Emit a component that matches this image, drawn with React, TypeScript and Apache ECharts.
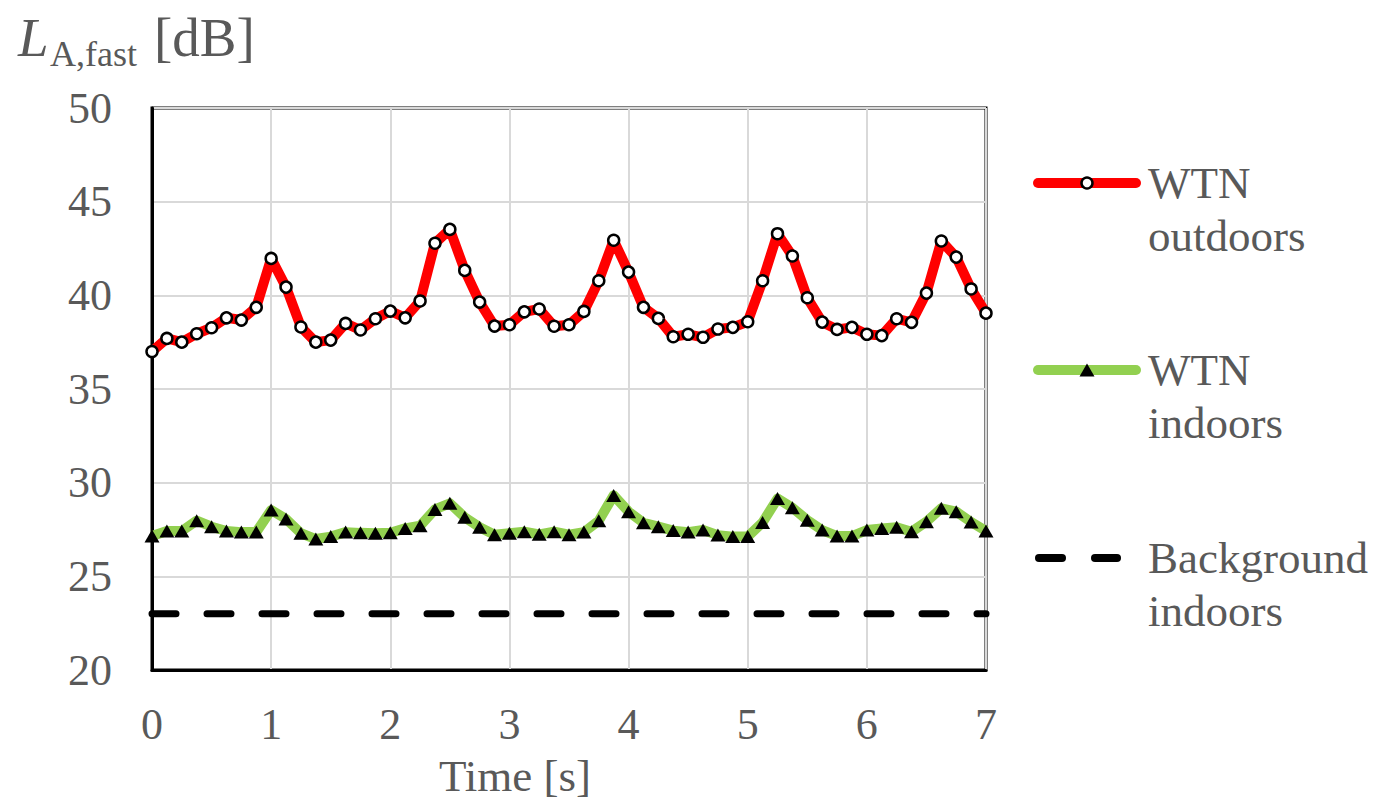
import React, { useEffect, useRef } from "react";
import * as echarts from "echarts";

const timeS = [
  0, 0.125, 0.25, 0.375, 0.5, 0.625, 0.75, 0.875,
  1, 1.125, 1.25, 1.375, 1.5, 1.625, 1.75, 1.875,
  2, 2.125, 2.25, 2.375, 2.5, 2.625, 2.75, 2.875,
  3, 3.125, 3.25, 3.375, 3.5, 3.625, 3.75, 3.875,
  4, 4.125, 4.25, 4.375, 4.5, 4.625, 4.75, 4.875,
  5, 5.125, 5.25, 5.375, 5.5, 5.625, 5.75, 5.875,
  6, 6.125, 6.25, 6.375, 6.5, 6.625, 6.75, 6.875,
  7,
];

const wtnOutdoors = [
  37.0, 37.7, 37.5, 37.95, 38.27, 38.8, 38.68, 39.36,
  41.97, 40.44, 38.31, 37.5, 37.61, 38.5, 38.15, 38.75,
  39.16, 38.8, 39.7, 42.78, 43.52, 41.33, 39.64, 38.36,
  38.43, 39.12, 39.27, 38.35, 38.43, 39.14, 40.78, 42.94,
  41.24, 39.36, 38.77, 37.79, 37.92, 37.76, 38.2, 38.29,
  38.59, 40.78, 43.29, 42.1, 39.87, 38.57, 38.18, 38.29,
  37.92, 37.85, 38.75, 38.56, 40.12, 42.9, 42.04, 40.34,
  39.05,
];

const wtnIndoors = [
  27.15, 27.42, 27.42, 27.97, 27.65, 27.42, 27.36, 27.36,
  28.54, 28.06, 27.3, 26.99, 27.12, 27.36, 27.32, 27.3,
  27.32, 27.56, 27.7, 28.57, 28.9, 28.15, 27.62, 27.22,
  27.3, 27.38, 27.24, 27.38, 27.22, 27.36, 27.97, 29.32,
  28.45, 27.86, 27.65, 27.44, 27.36, 27.47, 27.2, 27.12,
  27.12, 27.88, 29.15, 28.66, 28.0, 27.47, 27.15, 27.15,
  27.47, 27.56, 27.62, 27.38, 27.92, 28.63, 28.45, 27.9,
  27.42,
];

const backgroundTime = [0, 7];
const backgroundIndoors = [23, 23];

const seriesNames = ["WTN outdoors", "WTN indoors", "Background indoors"];
const legendLines = [
  ["WTN", "outdoors"],
  ["WTN", "indoors"],
  ["Background", "indoors"],
];
const yTitleMain = "L";
const yTitleSub = "A,fast";
const yTitleUnit = "[dB]";
const xTitle = "Time [s]";

const FONT = '"Liberation Serif", "Times New Roman", serif';
const GREY = "#595959";

export default function App() {
  const ref = useRef<HTMLDivElement>(null);

  useEffect(() => {
    if (!ref.current) return;
    const chart = echarts.init(ref.current, undefined, { renderer: "svg" });

    const pair = (xs: number[], ys: number[]) => xs.map((x, i) => [x, ys[i]]);

    const legendText = (x: number, y: number, s: string) => ({
      type: "text",
      x,
      y,
      style: {
        text: s,
        fill: GREY,
        font: `45px ${FONT}`,
        align: "left",
        verticalAlign: "middle",
      },
    });

    const lgX0 = 1033;
    const lgX1 = 1141;
    const lgXC = 1087;
    const lgTextX = 1148;
    const rowY = [183, 370, 558];
    const lineGap = 53;

    const graphic: any[] = [
      {
        type: "text",
        x: 18,
        y: 37,
        style: {
          text: yTitleMain,
          fill: GREY,
          font: `italic 55px ${FONT}`,
          align: "left",
          verticalAlign: "middle",
        },
      },
      {
        type: "text",
        x: 50,
        y: 54,
        style: {
          text: yTitleSub,
          fill: GREY,
          font: `36px ${FONT}`,
          align: "left",
          verticalAlign: "middle",
        },
      },
      {
        type: "text",
        x: 154,
        y: 37,
        style: {
          text: yTitleUnit,
          fill: GREY,
          font: `55px ${FONT}`,
          align: "left",
          verticalAlign: "middle",
        },
      },
      {
        type: "text",
        x: 515,
        y: 776,
        style: {
          text: xTitle,
          fill: GREY,
          font: `45px ${FONT}`,
          align: "center",
          verticalAlign: "middle",
        },
      },
      {
        type: "line",
        shape: { x1: lgX0 + 5, y1: rowY[0], x2: lgX1 - 5, y2: rowY[0] },
        style: { stroke: "#ff0000", lineWidth: 10, lineCap: "round" },
      },
      {
        type: "circle",
        shape: { cx: lgXC, cy: rowY[0], r: 5.5 },
        style: { fill: "#ffffff", stroke: "#000000", lineWidth: 2.5 },
      },
      legendText(lgTextX, rowY[0], legendLines[0][0]),
      legendText(lgTextX, rowY[0] + lineGap, legendLines[0][1]),
      {
        type: "line",
        shape: { x1: lgX0 + 5, y1: rowY[1], x2: lgX1 - 5, y2: rowY[1] },
        style: { stroke: "#92d050", lineWidth: 10, lineCap: "round" },
      },
      {
        type: "polygon",
        shape: {
          points: [
            [lgXC, rowY[1] - 6.5],
            [lgXC + 7.5, rowY[1] + 6.5],
            [lgXC - 7.5, rowY[1] + 6.5],
          ],
        },
        style: { fill: "#000000" },
      },
      legendText(lgTextX, rowY[1], legendLines[1][0]),
      legendText(lgTextX, rowY[1] + lineGap, legendLines[1][1]),
      {
        type: "line",
        shape: { x1: 1039, y1: rowY[2], x2: 1062, y2: rowY[2] },
        style: { stroke: "#000000", lineWidth: 8, lineCap: "round" },
      },
      {
        type: "line",
        shape: { x1: 1095, y1: rowY[2], x2: 1117, y2: rowY[2] },
        style: { stroke: "#000000", lineWidth: 8, lineCap: "round" },
      },
      legendText(lgTextX, rowY[2], legendLines[2][0]),
      legendText(lgTextX, rowY[2] + lineGap, legendLines[2][1]),
    ];

    chart.setOption({
      animation: false,
      backgroundColor: "#ffffff",
      textStyle: { fontFamily: FONT },
      grid: {
        left: 152,
        right: 391,
        top: 108,
        bottom: 131,
        containLabel: false,
        outerBoundsMode: "none",
        show: true,
        borderColor: "#000000",
        borderWidth: 3,
      },
      xAxis: {
        type: "value",
        min: 0,
        max: 7,
        interval: 1,
        axisLine: { show: true, lineStyle: { color: "#000000", width: 3 } },
        axisTick: { show: false },
        splitLine: { show: true, lineStyle: { color: "#d9d9d9", width: 2 } },
        axisLabel: {
          color: GREY,
          fontFamily: FONT,
          fontSize: 44,
          margin: 32,
        },
      },
      yAxis: {
        type: "value",
        min: 20,
        max: 50,
        interval: 5,
        axisLine: { show: true, lineStyle: { color: "#000000", width: 3 } },
        axisTick: { show: false },
        splitLine: { show: true, lineStyle: { color: "#d9d9d9", width: 2 } },
        axisLabel: {
          color: GREY,
          fontFamily: FONT,
          fontSize: 44,
          margin: 40,
        },
      },
      series: [
        {
          name: seriesNames[2],
          type: "line",
          data: pair(backgroundTime, backgroundIndoors),
          symbol: "none",
          lineStyle: {
            color: "#000000",
            width: 7,
            type: [24, 31],
            cap: "round",
          },
          z: 2,
        },
        {
          name: seriesNames[1],
          type: "line",
          data: pair(timeS, wtnIndoors),
          symbol: "triangle",
          symbolSize: [15, 13],
          itemStyle: { color: "#000000" },
          lineStyle: { color: "#92d050", width: 10, join: "round" },
          z: 3,
        },
        {
          name: seriesNames[0],
          type: "line",
          data: pair(timeS, wtnOutdoors),
          symbol: "circle",
          symbolSize: 11,
          itemStyle: { color: "#ffffff", borderColor: "#000000", borderWidth: 2.5 },
          lineStyle: { color: "#ff0000", width: 10, join: "round" },
          z: 4,
        },
      ],
      graphic,
    });

    return () => chart.dispose();
  }, []);

  return (
    <div
      ref={ref}
      style={{ position: "fixed", left: 0, top: 0, width: 1377, height: 801 }}
    />
  );
}
